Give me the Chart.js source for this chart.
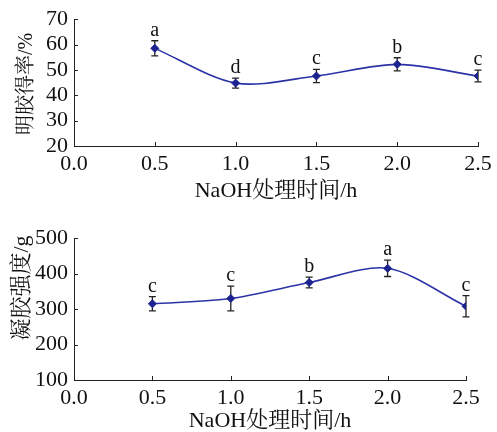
<!DOCTYPE html>
<html><head><meta charset="utf-8">
<script src="https://cdn.jsdelivr.net/npm/chart.js@4/dist/chart.umd.min.js"></script>
<style>
html,body{margin:0;padding:0;background:#fff;width:497px;height:432px;overflow:hidden}
#c1{position:absolute;left:0;top:0}
#c2{position:absolute;left:0;top:219px}
</style></head><body>
<canvas id="c1" width="497" height="216"></canvas>
<canvas id="c2" width="497" height="213"></canvas>
<script>
const times = [0.5, 1.0, 1.5, 2.0, 2.5];
const yieldValues = [58.5, 44.8, 47.6, 52.2, 47.6];
const yieldErrors = [3.0, 2.0, 2.6, 2.6, 2.3];
const yieldLetters = ['a', 'd', 'c', 'b', 'c'];
const strengthValues = [315, 330, 375, 415, 308];
const strengthErrors = [20, 35, 15, 23, 30];
const strengthLetters = ['c', 'c', 'b', 'a', 'c'];
const xTickLabels = ['0.0', '0.5', '1.0', '1.5', '2.0', '2.5'];
const yieldTickLabels = [20, 30, 40, 50, 60, 70];
const strengthTickLabels = [100, 200, 300, 400, 500];
const xTitle = 'NaOH处理时间/h';
const yieldTitle = '明胶得率/%';
const strengthTitle = '凝胶强度/g';

const FAM = '"Liberation Serif", "Noto Serif CJK SC", "Noto Sans CJK SC", serif';
const LINE = '#2b33a6';
const MARK = '#1c2290';
const AX = '#222';

const errPlugin = {
  id: 'errbars',
  beforeDatasetsDraw(chart, args, opts) {
    const ctx = chart.ctx, xs = chart.scales.x, ys = chart.scales.y;
    const vals = chart.data.datasets[0].data;
    ctx.save();
    ctx.strokeStyle = AX; ctx.lineWidth = 1.3;
    vals.forEach((p, i) => {
      const e = opts.errors[i];
      const x = xs.getPixelForValue(p.x);
      const y1 = ys.getPixelForValue(p.y + e), y2 = ys.getPixelForValue(p.y - e);
      ctx.beginPath();
      ctx.moveTo(x, y1); ctx.lineTo(x, y2);
      ctx.moveTo(x - 3.5, y1); ctx.lineTo(x + 3.5, y1);
      ctx.moveTo(x - 3.5, y2); ctx.lineTo(x + 3.5, y2);
      ctx.stroke();
    });
    ctx.restore();
  },
  afterDatasetsDraw(chart, args, opts) {
    const ctx = chart.ctx, xs = chart.scales.x, ys = chart.scales.y;
    const vals = chart.data.datasets[0].data;
    ctx.save();
    ctx.fillStyle = '#111';
    ctx.font = '20px ' + FAM;
    ctx.textAlign = 'center'; ctx.textBaseline = 'alphabetic';
    vals.forEach((p, i) => {
      const x = xs.getPixelForValue(p.x);
      const y1 = ys.getPixelForValue(p.y + opts.errors[i]);
      ctx.fillText(opts.letters[i], x, y1 - 5);
    });
    ctx.restore();
  },
  afterDraw(chart, args, opts) {
    const ctx = chart.ctx, xs = chart.scales.x, ys = chart.scales.y;
    const a = chart.chartArea;
    ctx.save();
    ctx.strokeStyle = AX; ctx.lineWidth = 1;
    ctx.beginPath();
    xs.ticks.forEach(t => {
      if (t.value === xs.min) return;
      const x = Math.round(xs.getPixelForValue(t.value)) + 0.5;
      ctx.moveTo(x, a.bottom); ctx.lineTo(x, a.bottom - 4);
    });
    ys.ticks.forEach(t => {
      if (t.value === ys.min) return;
      const y = Math.round(ys.getPixelForValue(t.value)) + 0.5;
      ctx.moveTo(a.left, y); ctx.lineTo(a.left + 4, y);
    });
    ctx.stroke();
    // y axis title
    ctx.translate(opts.yTitleX, opts.yTitleY);
    ctx.rotate(-Math.PI / 2);
    ctx.fillStyle = '#111';
    ctx.font = opts.yTitleSize + 'px ' + FAM;
    ctx.textAlign = 'center'; ctx.textBaseline = 'middle';
    ctx.fillText(opts.yTitle, 0, 0);
    ctx.restore();
  }
};

function makeChart(id, vals, errs, letters, yTicks, yTitleText, cfg) {
  return new Chart(document.getElementById(id), {
    type: 'line',
    data: {
      datasets: [{
        data: times.map((t, i) => ({ x: t, y: vals[i] })),
        borderColor: LINE, borderWidth: 1.6,
        pointStyle: 'rectRot', pointRadius: 4,
        pointBackgroundColor: MARK, pointBorderColor: MARK, pointBorderWidth: 1,
        tension: cfg.tension, fill: false
      }]
    },
    options: {
      responsive: false, maintainAspectRatio: false, animation: false,
      devicePixelRatio: 1,
      layout: { padding: { left: 0, top: cfg.top, right: cfg.right, bottom: 0 } },
      plugins: {
        legend: { display: false }, tooltip: { enabled: false },
        errbars: { errors: errs, letters: letters, yTitle: yTitleText,
                   yTitleX: cfg.yTitleX, yTitleY: cfg.yTitleY, yTitleSize: cfg.yTitleSize }
      },
      scales: {
        x: {
          type: 'linear', min: 0, max: 2.5,
          afterBuildTicks: s => { s.ticks = xTickLabels.map(v => ({ value: parseFloat(v) })); },
          ticks: { callback: (v) => xTickLabels.find(l => parseFloat(l) === v) || '', color: '#111',
                   font: { family: FAM, size: 22 }, padding: 5, maxRotation: 0, autoSkip: false },
          grid: { display: false, drawTicks: false },
          border: { display: true, color: AX, width: 1 },
          title: { display: true, text: xTitle, color: '#111',
                   font: { family: FAM, size: 22, lineHeight: 1 }, padding: { top: 0, bottom: cfg.xTitlePad } },
          afterFit: s => { s.height = cfg.xHeight; }
        },
        y: {
          type: 'linear', min: yTicks[0], max: yTicks[yTicks.length - 1],
          afterBuildTicks: s => { s.ticks = yTicks.map(v => ({ value: v })); },
          ticks: { color: '#111', font: { family: FAM, size: 22 }, padding: 6, autoSkip: false },
          grid: { display: false, drawTicks: false },
          border: { display: true, color: AX, width: 1 },
          title: { display: false },
          afterFit: s => { s.width = 74; }
        }
      }
    },
    plugins: [errPlugin]
  });
}

makeChart('c1', yieldValues, yieldErrors, yieldLetters, yieldTickLabels, yieldTitle,
  { top: 17, right: 19, xHeight: 70, xTitlePad: 14, yTitleSize: 20, yTitleX: 27, yTitleY: 84, tension: 0.3 });
makeChart('c2', strengthValues, strengthErrors, strengthLetters, strengthTickLabels, strengthTitle,
  { top: 17, right: 31, xHeight: 52, xTitlePad: 0, yTitleSize: 22, yTitleX: 22, yTitleY: 69, tension: 0.3 });
</script>
</body></html>
